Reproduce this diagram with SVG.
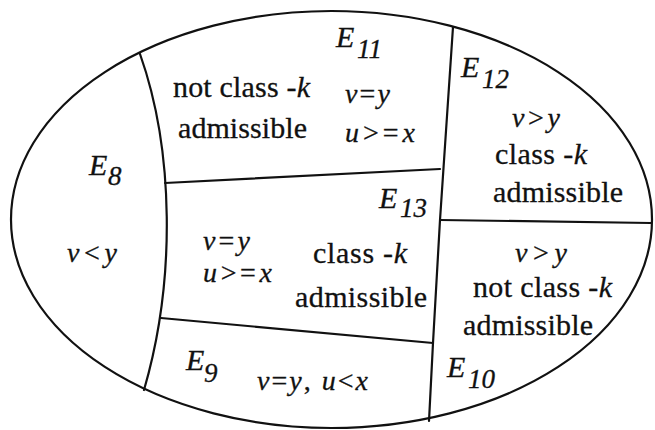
<svg xmlns="http://www.w3.org/2000/svg" width="655" height="430" viewBox="0 0 655 430">
<style>
text{font-family:"Liberation Serif","Times New Roman",serif;fill:#111;stroke:#111;stroke-width:0.3;}
.t{font-size:30px;}
.m{font-size:28px;}
.i{font-style:italic;}
.lbl{font-size:30px;font-style:italic;}
.sub{font-size:27px;font-style:italic;}
.ln{fill:none;stroke:#111;stroke-width:2.2;stroke-linecap:round;stroke-linejoin:round;}
</style>
<rect width="655" height="430" fill="#fff"/>
<g id="connectors">
<ellipse class="ln" cx="331.5" cy="219.5" rx="320.5" ry="208.5"/>
<path class="ln" d="M140,54 C174,150 176,280 144,390"/>
<path class="ln" d="M165,183 L440,169"/>
<path class="ln" d="M453,27 L440,220 L433,343 L429,421"/>
<path class="ln" d="M440,220 L651,223"/>
<path class="ln" d="M161,318 L433,343"/>
</g>
<g id="E11">
<text class="lbl" x="336" y="47">E<tspan class="sub" x="357" y="58">11</tspan></text>
<text class="t" x="173" y="97" textLength="137" lengthAdjust="spacing">not class -<tspan class="i">k</tspan></text>
<text class="t" x="178" y="138" textLength="129" lengthAdjust="spacing">admissible</text>
<text class="m" x="345" y="103" textLength="45" lengthAdjust="spacing"><tspan class="i">v</tspan>=<tspan class="i">y</tspan></text>
<text class="m" x="345" y="142" textLength="70" lengthAdjust="spacing"><tspan class="i">u</tspan>&gt;=<tspan class="i">x</tspan></text>
</g>
<g id="E12">
<text class="lbl" x="461" y="77">E<tspan class="sub" x="482" y="88">12</tspan></text>
<text class="m" x="512" y="127" textLength="48" lengthAdjust="spacing"><tspan class="i">v</tspan>&gt;<tspan class="i">y</tspan></text>
<text class="t" x="495" y="164" textLength="92" lengthAdjust="spacing">class -<tspan class="i">k</tspan></text>
<text class="t" x="493" y="202" textLength="130" lengthAdjust="spacing">admissible</text>
</g>
<g id="E8">
<text class="lbl" x="89" y="175">E<tspan class="sub" x="108" y="185">8</tspan></text>
<text class="m" x="67" y="262" textLength="50" lengthAdjust="spacing"><tspan class="i">v</tspan>&lt;<tspan class="i">y</tspan></text>
</g>
<g id="E13">
<text class="lbl" x="379" y="208">E<tspan class="sub" x="400" y="217">13</tspan></text>
<text class="m" x="203" y="250" textLength="47" lengthAdjust="spacing"><tspan class="i">v</tspan>=<tspan class="i">y</tspan></text>
<text class="m" x="203" y="282" textLength="69" lengthAdjust="spacing"><tspan class="i">u</tspan>&gt;=<tspan class="i">x</tspan></text>
<text class="t" x="313" y="263" textLength="94" lengthAdjust="spacing">class -<tspan class="i">k</tspan></text>
<text class="t" x="295" y="307" textLength="132" lengthAdjust="spacing">admissible</text>
</g>
<g id="E10">
<text class="m" x="515" y="262" textLength="52" lengthAdjust="spacing"><tspan class="i">v</tspan>&gt;<tspan class="i">y</tspan></text>
<text class="t" x="473" y="297" textLength="139" lengthAdjust="spacing">not class -<tspan class="i">k</tspan></text>
<text class="t" x="463" y="335" textLength="130" lengthAdjust="spacing">admissible</text>
<text class="lbl" x="447" y="377">E<tspan class="sub" x="468" y="388">10</tspan></text>
</g>
<g id="E9">
<text class="lbl" x="186" y="370">E<tspan class="sub" x="204" y="382">9</tspan></text>
<text class="m" x="257" y="390" textLength="111" lengthAdjust="spacing"><tspan class="i">v</tspan>=<tspan class="i">y</tspan>, <tspan class="i">u</tspan>&lt;<tspan class="i">x</tspan></text>
</g>
</svg>
